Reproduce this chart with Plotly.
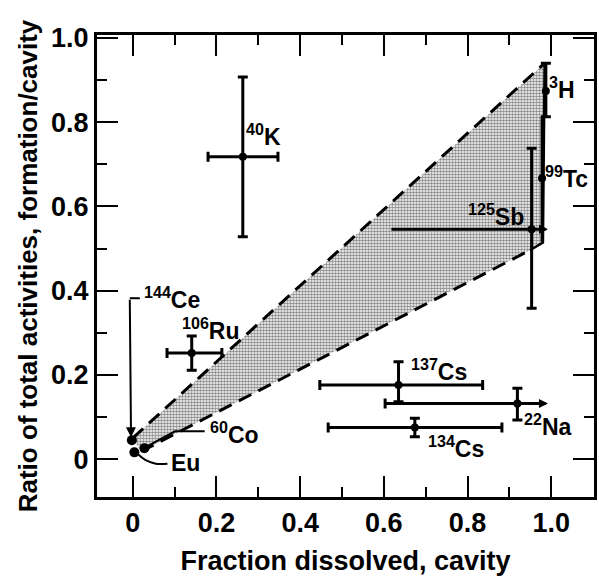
import plotly.graph_objects as go

# ---- data ----
nuclides = ["40K", "106Ru", "137Cs", "22Na", "134Cs", "125Sb", "99Tc", "3H", "144Ce", "60Co", "Eu"]
mass_nums = ["40", "106", "137", "22", "134", "125", "99", "3", "144", "60", ""]
elements = ["K", "Ru", "Cs", "Na", "Cs", "Sb", "Tc", "H", "Ce", "Co", "Eu"]
frac_dissolved = [0.263, 0.141, 0.635, 0.919, 0.674, 0.953, 0.978, 0.987, -0.002, 0.028, 0.004]
ratio_activity = [0.718, 0.252, 0.176, 0.132, 0.075, 0.546, 0.667, 0.874, 0.045, 0.026, 0.016]
x_err_minus = [0.083, 0.059, 0.188, 0.316, 0.207, 0.335, 0, 0, 0, 0, 0]
x_err_plus = [0.084, 0.072, 0.201, 0.0, 0.208, 0.0, 0, 0, 0, 0, 0]
y_err_minus = [0.19, 0.041, 0.040, 0.039, 0.022, 0.188, 0.151, 0.061, 0, 0, 0]
y_err_plus = [0.189, 0.040, 0.055, 0.036, 0.022, 0.192, 0.146, 0.066, 0, 0, 0]
x_arrow_end = [None, None, None, 0.992, None, 0.992, None, None, None, None, None]

# label anchor (left edge, middle) for each nuclide
label_x = [0.266, 0.112, 0.661, 0.930, 0.701, 0.796, 0.981, 0.990, 0.021, 0.179, 0.086]
label_y = [0.770, 0.310, 0.211, 0.081, 0.029, 0.580, 0.670, 0.880, 0.382, 0.061, -0.010]

# shaded band between the two dashed lines
band_x = [0.0, 0.984, 0.98, 0.949, 0.02, 0.0]
band_y = [0.05, 0.94, 0.514, 0.496, 0.018, 0.05]
upper_x = [0.0, 0.984]
upper_y = [0.05, 0.94]
lower_x = [0.02, 0.949]
lower_y = [0.018, 0.496]
edge_x = [0.984, 0.98, 0.949]
edge_y = [0.94, 0.514, 0.496]

# leader lines
ce_lead_x = [0.017, -0.007]
ce_lead_y = [0.382, 0.382]
ce_arrow = (-0.007, 0.382, -0.004, 0.052)
co_lead_x = [0.172, 0.101, 0.03]
co_lead_y = [0.066, 0.066, 0.028]
eu_lead_x = [0.083, 0.055, 0.03, 0.012]
eu_lead_y = [-0.011, -0.011, -0.002, 0.012]

x_ticks = [0, 0.2, 0.4, 0.6, 0.8, 1.0]
x_ticktext = ["0", "0.2", "0.4", "0.6", "0.8", "1.0"]
y_ticks = [0, 0.2, 0.4, 0.6, 0.8, 1.0]
y_ticktext = ["0", "0.2", "0.4", "0.6", "0.8", "1.0"]

FONT = "Liberation Sans, Arial, Helvetica, sans-serif"

fig = go.Figure()

fig.add_trace(go.Scatter(
    x=band_x, y=band_y, mode="lines", fill="toself",
    line=dict(width=0, color="rgba(0,0,0,0)"),
    fillcolor="rgba(0,0,0,0)",
    fillpattern=dict(shape=".", size=3, solidity=0.55, fgcolor="#111111", bgcolor="#ffffff"),
    hoverinfo="skip", showlegend=False))
for lx, ly in ((upper_x, upper_y), (lower_x, lower_y)):
    fig.add_trace(go.Scatter(x=lx, y=ly, mode="lines",
                             line=dict(color="black", width=3, dash="14px,8px"),
                             hoverinfo="skip", showlegend=False))
fig.add_trace(go.Scatter(x=edge_x, y=edge_y, mode="lines",
                         line=dict(color="black", width=2.5),
                         hoverinfo="skip", showlegend=False))

# leader lines
for lx, ly in ((ce_lead_x, ce_lead_y), (co_lead_x, co_lead_y)):
    fig.add_trace(go.Scatter(x=lx, y=ly, mode="lines", line=dict(color="black", width=2),
                             hoverinfo="skip", showlegend=False))
fig.add_trace(go.Scatter(x=eu_lead_x, y=eu_lead_y, mode="lines",
                         line=dict(color="black", width=2, shape="spline"),
                         hoverinfo="skip", showlegend=False))

cap_x = {"125Sb": 0, "22Na": 5}
cap_y = {"99Tc": 0}
for i, name in enumerate(nuclides):
    fig.add_trace(go.Scatter(
        x=[frac_dissolved[i]], y=[ratio_activity[i]], mode="markers",
        marker=dict(color="black", size=8 if i < 8 else 10),
        error_x=dict(type="data", symmetric=False, array=[x_err_plus[i]],
                     arrayminus=[x_err_minus[i]], color="black", thickness=3,
                     width=cap_x.get(name, 5), visible=(x_err_plus[i] + x_err_minus[i]) > 0),
        error_y=dict(type="data", symmetric=False, array=[y_err_plus[i]],
                     arrayminus=[y_err_minus[i]], color="black", thickness=3,
                     width=cap_y.get(name, 5), visible=(y_err_plus[i] + y_err_minus[i]) > 0),
        hoverinfo="skip", showlegend=False))

annotations = []
for i, name in enumerate(nuclides):
    if x_arrow_end[i] is not None:
        annotations.append(dict(
            x=x_arrow_end[i], y=ratio_activity[i], ax=frac_dissolved[i], ay=ratio_activity[i],
            xref="x", yref="y", axref="x", ayref="y", text="", showarrow=True,
            arrowhead=2, arrowsize=0.6, arrowwidth=3, arrowcolor="black"))
    txt = (f"<sup>{mass_nums[i]}</sup>" if mass_nums[i] else "") + elements[i]
    annotations.append(dict(
        x=label_x[i], y=label_y[i], xref="x", yref="y", text=txt, showarrow=False,
        xanchor="left", yanchor="middle",
        font=dict(family=FONT, size=23, color="black", weight="bold")))
annotations.append(dict(
    x=ce_arrow[2], y=ce_arrow[3], ax=ce_arrow[0], ay=ce_arrow[1],
    xref="x", yref="y", axref="x", ayref="y", text="", showarrow=True,
    arrowhead=2, arrowsize=1, arrowwidth=2, arrowcolor="black"))

axis_common = dict(
    showline=True, linewidth=3, linecolor="black", mirror="allticks",
    ticks="inside", ticklen=21, tickwidth=2, tickcolor="black",
    showgrid=False, zeroline=False,
    tickfont=dict(family=FONT, size=27, color="black", weight="bold"),
    minor=dict(ticks="inside", ticklen=10, tickwidth=2, tickcolor="black", dtick=0.1, showgrid=False),
)

fig.update_layout(
    width=599, height=576,
    margin=dict(l=97, r=2, t=35, b=79),
    paper_bgcolor="white", plot_bgcolor="white",
    annotations=annotations,
    xaxis=dict(range=[-0.0853, 1.102], tickvals=x_ticks, ticktext=x_ticktext,
               title=dict(text="Fraction dissolved, cavity", standoff=14,
                          font=dict(family=FONT, size=27, color="black", weight="bold")),
               **axis_common),
    yaxis=dict(range=[-0.09, 1.007], tickvals=y_ticks, ticktext=y_ticktext,
               title=dict(text="Ratio of total activities, formation/cavity", standoff=6,
                          font=dict(family=FONT, size=26, color="black", weight="bold")),
               **axis_common),
)

fig.write_html("out.html")
